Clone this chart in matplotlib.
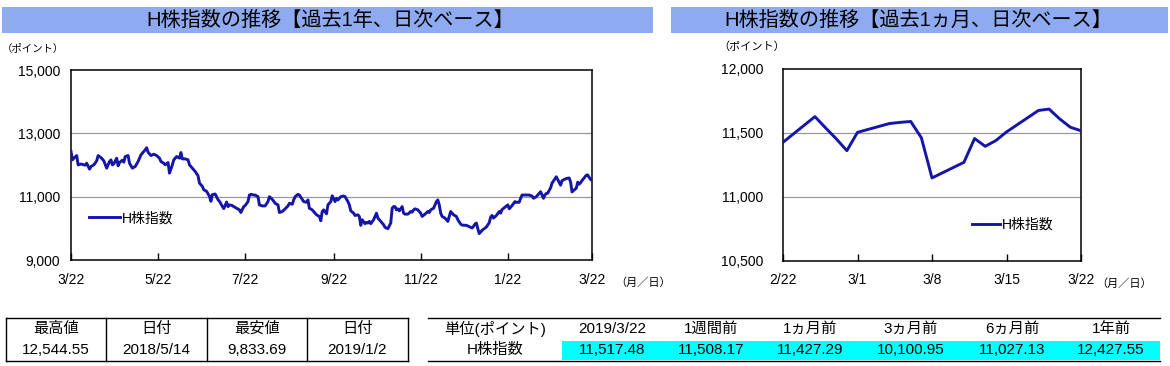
import datetime as dt
import matplotlib
matplotlib.use('Agg')
import matplotlib.pyplot as plt
from matplotlib.patches import Rectangle

plt.rcParams['font.family'] = ['Liberation Sans', 'Noto Sans CJK JP', 'DejaVu Sans']

# ---------------------------------------------------------------- data
# 1 year chart: days since 2018/3/22 (up to 2019/2/21)
year_start = dt.date(2018, 3, 22)
year_days = [0, 1, 2, 4, 5, 7, 10, 11, 13, 14,
             16, 18, 19, 21, 23, 25, 27, 28, 29, 30,
             32, 33, 34, 36, 37, 38, 40, 41, 43, 45,
             47, 49, 52, 53, 54, 56, 58, 60, 62, 63,
             65, 66, 68, 69, 71, 72, 74, 76, 77, 78,
             80, 82, 83, 85, 87, 89, 90, 92, 93, 95,
             97, 98, 99, 101, 103, 104, 106, 107,
             108, 109, 110, 111, 113, 114, 116, 118, 119, 121,
             122, 124, 125, 126, 128, 129, 131, 132, 134, 136,
             138, 139, 141, 143, 145, 146, 148, 150, 152, 153,
             155, 156, 157, 159, 160, 162, 163, 165, 166, 167,
             169, 170, 172, 174, 175, 176, 177, 179, 180, 182,
             183, 185, 186, 187, 189, 191, 192, 194, 195, 196,
             198, 199, 201, 202, 203, 204, 206, 207, 208, 209,
             210, 212, 213, 214, 215, 217, 219, 220, 222, 224,
             225, 226,
             227, 228, 229, 230, 232, 233, 234, 236, 238, 239,
             240, 241, 243, 245, 246, 248, 250, 251, 252, 254,
             255, 256, 257, 258, 259, 260, 262, 264, 265, 266,
             268, 270, 271, 273, 274, 277, 280, 281, 282, 283,
             284, 285, 286, 288, 290, 291, 293, 294, 295, 296,
             298, 300, 301, 302, 304, 306, 307, 309, 311, 312,
             314, 315, 316, 318, 319, 321, 323, 324, 326, 329,
             330, 331, 332, 333, 334, 336]
year_vals = [12428, 12162, 12215, 12298, 12005, 12030, 11995, 12057, 11869, 11953,
             12005, 12131, 12298, 12235, 12131, 11900, 12110, 12162, 12005, 12037,
             12215, 11974, 12078, 12152, 12089, 12267, 12298, 12057, 11900, 11953,
             12110, 12319, 12480, 12545, 12403, 12298, 12340, 12298, 12215, 12110,
             12057, 12005, 12078, 11743, 12005, 12162, 12267, 12215, 12393, 12194,
             12194, 12162, 12005, 11900, 11796, 11660, 11429, 11325, 11220, 11168,
             11010, 10853, 11063, 11084, 10906, 10853, 10696, 10623,
             10720, 10830, 10687, 10740, 10719, 10687, 10635, 10583, 10500, 10687,
             10719, 10844, 11052, 11073, 11052, 11052, 11000, 10740, 10708, 10708,
             10844, 11000, 10917, 10792, 10740, 10500, 10531, 10614, 10708, 10792,
             10760, 10896, 11000, 11073, 11052, 10917, 10844, 10823, 10896, 10635,
             10583, 10531, 10427, 10375, 10240, 10531, 10583, 10458, 10740, 10844,
             11027, 10844, 10948, 10896, 11000, 11021, 11000, 10844, 10740, 10552,
             10479, 10406, 10427, 10375, 10094, 10271, 10146, 10188, 10167, 10219,
             10146, 10271, 10375, 10479, 10323, 10219, 10115, 10031, 9990, 10167,
             10635, 10687,
             10687, 10583, 10615, 10552, 10687, 10479, 10448, 10448, 10531, 10510,
             10583, 10615, 10583, 10479, 10375, 10448, 10531, 10500, 10583, 10635,
             10740, 10844, 10896, 10740, 10479, 10375, 10323, 10219, 10375, 10531,
             10427, 10375, 10271, 10135, 10101, 10094, 10031, 10010, 10063, 10135,
             10167, 9990, 9834, 9938, 10010, 10042, 10177, 10354, 10406, 10323,
             10406, 10531, 10479, 10594, 10667, 10740, 10615, 10719, 10844, 10823,
             10823, 10948, 11052, 11052, 11052, 11052, 11021, 10948, 11000, 11156,
             11052, 10948, 11052, 11104, 11110, 11280]

# last month, daily
month_dates = ['2019-02-22', '2019-02-25', '2019-02-26', '2019-02-27', '2019-02-28',
               '2019-03-01', '2019-03-04', '2019-03-05', '2019-03-06', '2019-03-07',
               '2019-03-08', '2019-03-11', '2019-03-12', '2019-03-13', '2019-03-14',
               '2019-03-15', '2019-03-18', '2019-03-19', '2019-03-20', '2019-03-21',
               '2019-03-22']
month_vals = [11427.29, 11628, 11540, 11455, 11362,
              11505, 11574, 11583, 11590, 11463,
              11149, 11271, 11457, 11396, 11441,
              11508.17, 11676, 11687, 11610, 11545,
              11517.48]

year_ticks = ['2018-03-22', '2018-05-22', '2018-07-22', '2018-09-22',
              '2018-11-22', '2019-01-22', '2019-03-22']
year_tick_labels = ['3/22', '5/22', '7/22', '9/22', '11/22', '1/22', '3/22']
month_ticks = ['2019-02-22', '2019-03-01', '2019-03-08', '2019-03-15', '2019-03-22']
month_tick_labels = ['2/22', '3/1', '3/8', '3/15', '3/22']

hilo_head = ['最高値', '日付', '最安値', '日付']
hilo_vals = ['12,544.55', '2018/5/14', '9,833.69', '2019/1/2']
cmp_head = ['単位(ポイント)', '2019/3/22', '1週間前', '1ヵ月前', '3ヵ月前', '6ヵ月前', '1年前']
cmp_name = 'H株指数'
cmp_vals = [11517.48, 11508.17, 11427.29, 10100.95, 11027.13, 12427.55]

# ---------------------------------------------------------------- style
W, H = 1170, 366
LINE = '#1515a8'
BAR = '#8eaaf0'
CYAN = '#00ffff'


def to_date(s):
    return dt.datetime.strptime(s, '%Y-%m-%d').date()


def px_axes(fig, l, t, r, b):
    return fig.add_axes([l / W, 1 - b / H, (r - l) / W, (b - t) / H])


def style_chart(ax, yticks, ylabels, xticks, xlabels, ypad, ymin, ymax):
    ax.set_ylim(ymin, ymax)
    ax.set_yticks(yticks)
    ax.set_yticklabels(ylabels, fontsize=10)
    ax.set_xticks(xticks)
    ax.set_xticklabels(xlabels, fontsize=10)
    ax.tick_params(axis='y', length=0, pad=ypad)
    ax.tick_params(axis='x', direction='in', length=5, width=1, pad=9)
    for s in ax.spines.values():
        s.set_linewidth(1.1)
        s.set_color('black')
    for v in yticks[1:-1]:
        ax.axhline(v, color='#999999', lw=0.9, zorder=1)


fig = plt.figure(figsize=(W / 100, H / 100), dpi=100)

# background layer in pixel coordinates (titles, units, tables)
bg = fig.add_axes([0, 0, 1, 1])
bg.set_xlim(0, W)
bg.set_ylim(H, 0)
bg.axis('off')

bg.add_patch(Rectangle((2, 7), 651, 26, color=BAR, lw=0))
bg.add_patch(Rectangle((671, 7), 497, 26, color=BAR, lw=0))
bg.text(330, 20.5, 'H株指数の推移【過去1年、日次ベース】', ha='center', va='center', fontsize=14.5)
bg.text(918, 20.5, 'H株指数の推移【過去1ヵ月、日次ベース】', ha='center', va='center', fontsize=14.5)

bg.text(33, 49, '（ポイント）', ha='center', va='center', fontsize=7.5)
bg.text(752, 47, '（ポイント）', ha='center', va='center', fontsize=8)
bg.text(643, 283, '（月／日）', ha='center', va='center', fontsize=8)
bg.text(1124, 284, '（月／日）', ha='center', va='center', fontsize=8)

# left table: high / low
cols = [6, 106, 207, 307, 408]
rows = [318, 339.5, 361]
for y in (rows[0], rows[-1]):
    bg.plot([cols[0], cols[-1]], [y, y], color='black', lw=1)
for x in cols:
    bg.plot([x, x], [rows[0], rows[-1]], color='black', lw=1)
for i in range(4):
    cx = (cols[i] + cols[i + 1]) / 2
    bg.text(cx, (rows[0] + rows[1]) / 2, hilo_head[i], ha='center', va='center', fontsize=11)
    bg.text(cx, (rows[1] + rows[2]) / 2, hilo_vals[i], ha='center', va='center', fontsize=11)

# right table: comparison
tcols = [428, 562, 662, 760, 860, 962, 1062, 1160]
bg.add_patch(Rectangle((tcols[1], rows[1] + 1), tcols[-1] - tcols[1], rows[2] - rows[1] - 2, color=CYAN, lw=0))
bg.plot([tcols[0], tcols[-1]], [rows[0], rows[0]], color='black', lw=1)
bg.plot([tcols[0], tcols[-1]], [rows[2], rows[2]], color='black', lw=1)
for i in range(7):
    cx = (tcols[i] + tcols[i + 1]) / 2
    bg.text(cx, (rows[0] + rows[1]) / 2, cmp_head[i], ha='center', va='center', fontsize=11)
    val = cmp_name if i == 0 else f'{cmp_vals[i - 1]:,.2f}'
    bg.text(cx, (rows[1] + rows[2]) / 2, val, ha='center', va='center', fontsize=11)

# ---------------------------------------------------------------- 1 year chart
x_year = [year_start + dt.timedelta(days=d) for d in year_days] + [to_date(s) for s in month_dates]
y_year = year_vals + month_vals

ax1 = px_axes(fig, 71, 70, 592, 260)
ax1.plot(x_year, y_year, color=LINE, lw=2.1, label='H株指数', zorder=3)
ax1.set_xlim(to_date(year_ticks[0]), to_date(year_ticks[-1]))
style_chart(ax1, [9000, 11000, 13000, 15000], ['9,000', '11,000', '13,000', '15,000'],
            [to_date(s) for s in year_ticks], year_tick_labels, 8, 9000, 15000)
ax1.legend(loc='center left', bbox_to_anchor=(0.035, 0.22), frameon=False, fontsize=10,
           handlelength=2.2, handletextpad=0.15, borderpad=0, borderaxespad=0)

# ---------------------------------------------------------------- 1 month chart
ax2 = px_axes(fig, 783, 69, 1081, 261)
ax2.plot([to_date(s) for s in month_dates], month_vals, color=LINE, lw=2.1, label='H株指数', zorder=3)
ax2.set_xlim(to_date(month_ticks[0]), to_date(month_ticks[-1]))
style_chart(ax2, [10500, 11000, 11500, 12000], ['10,500', '11,000', '11,500', '12,000'],
            [to_date(s) for s in month_ticks], month_tick_labels, 14, 10500, 12000)
ax2.legend(loc='center left', bbox_to_anchor=(0.635, 0.19), frameon=False, fontsize=10,
           handlelength=2.0, handletextpad=0.15, borderpad=0, borderaxespad=0)

fig.savefig('out.png', dpi=100)
plt.close(fig)
